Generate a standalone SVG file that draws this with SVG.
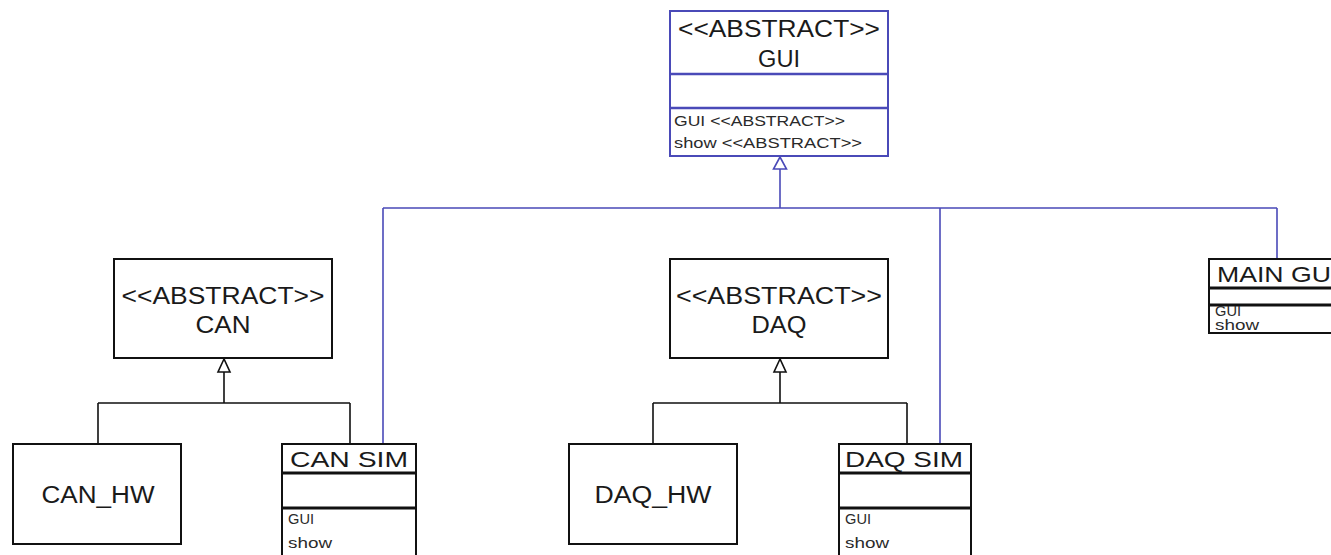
<svg xmlns="http://www.w3.org/2000/svg" width="1331" height="555" viewBox="0 0 1331 555">
<style>
.box{fill:#fff;stroke:#111;stroke-width:2}
.bbox{fill:#fff;stroke:#4a4ab8;stroke-width:2}
.sep{stroke:#111;stroke-width:3}
.bsep{stroke:#4a4ab8;stroke-width:2.5}
.big{font-family:"Liberation Sans",Arial,sans-serif;font-size:23px;fill:#1a1a1a;text-anchor:middle}
.ttl{font-family:"Liberation Sans",Arial,sans-serif;font-size:22px;fill:#1a1a1a}
.sm{font-family:"Liberation Sans",Arial,sans-serif;font-size:14px;fill:#2a2a2a}
.cb{fill:none;stroke:#4a4ab8;stroke-width:1.6}
.ck{fill:none;stroke:#111;stroke-width:1.6}
.tb{fill:#fff;stroke:#4a4ab8;stroke-width:1.6}
.tk{fill:#fff;stroke:#111;stroke-width:1.6}
</style>
<rect width="1331" height="555" fill="#fff"/>
<g id="connectors">
<path class="cb" d="M780,169 V208 M383,208 H1277 M383,208 V444 M940,208 V444 M1277,208 V259"/>
<polygon class="tb" points="780,157 773.5,169 786.5,169"/>
<path class="ck" d="M224,372 V403 M98,403 H350 M98,403 V444 M350,403 V444"/>
<polygon class="tk" points="224,359 218,372 230,372"/>
<path class="ck" d="M780,372 V403 M653,403 H907 M653,403 V444 M907,403 V444"/>
<polygon class="tk" points="780,359 774,372 786,372"/>
</g>
<g id="GUI">
<rect class="bbox" x="670" y="11" width="218" height="145"/>
<line class="bsep" x1="670" y1="74" x2="888" y2="74"/>
<line class="bsep" x1="670" y1="108" x2="888" y2="108"/>
<text class="big" x="779" y="37" textLength="202" lengthAdjust="spacingAndGlyphs">&lt;&lt;ABSTRACT&gt;&gt;</text>
<text class="big" x="779" y="67" textLength="42" lengthAdjust="spacingAndGlyphs">GUI</text>
<text class="sm" x="674" y="126" textLength="171" lengthAdjust="spacingAndGlyphs">GUI &lt;&lt;ABSTRACT&gt;&gt;</text>
<text class="sm" x="674" y="148" textLength="188" lengthAdjust="spacingAndGlyphs">show &lt;&lt;ABSTRACT&gt;&gt;</text>
</g>
<g id="CAN">
<rect class="box" x="114" y="259" width="218" height="99"/>
<text class="big" x="223" y="304" textLength="203" lengthAdjust="spacingAndGlyphs">&lt;&lt;ABSTRACT&gt;&gt;</text>
<text class="big" x="223" y="333" textLength="55" lengthAdjust="spacingAndGlyphs">CAN</text>
</g>
<g id="DAQ">
<rect class="box" x="670" y="259" width="218" height="99"/>
<text class="big" x="779" y="304" textLength="206" lengthAdjust="spacingAndGlyphs">&lt;&lt;ABSTRACT&gt;&gt;</text>
<text class="big" x="779" y="333" textLength="55" lengthAdjust="spacingAndGlyphs">DAQ</text>
</g>
<g id="CAN_HW">
<rect class="box" x="13" y="444" width="168" height="100"/>
<text class="big" x="98" y="503" textLength="113" lengthAdjust="spacingAndGlyphs">CAN_HW</text>
</g>
<g id="DAQ_HW">
<rect class="box" x="569" y="444" width="168" height="100"/>
<text class="big" x="653" y="503" textLength="117" lengthAdjust="spacingAndGlyphs">DAQ_HW</text>
</g>
<g id="CAN_SIM">
<rect class="box" x="282" y="444" width="134" height="130"/>
<text class="ttl" x="290" y="467" textLength="118" lengthAdjust="spacingAndGlyphs">CAN SIM</text>
<line class="sep" x1="282" y1="473" x2="416" y2="473"/>
<line class="sep" x1="282" y1="508" x2="416" y2="508"/>
<text class="sm" x="288" y="524" textLength="26" lengthAdjust="spacingAndGlyphs">GUI</text>
<text class="sm" x="288" y="548" textLength="44" lengthAdjust="spacingAndGlyphs">show</text>
</g>
<g id="DAQ_SIM">
<rect class="box" x="839" y="444" width="132" height="130"/>
<text class="ttl" x="845" y="467" textLength="118" lengthAdjust="spacingAndGlyphs">DAQ SIM</text>
<line class="sep" x1="839" y1="473" x2="971" y2="473"/>
<line class="sep" x1="839" y1="508" x2="971" y2="508"/>
<text class="sm" x="845" y="524" textLength="26" lengthAdjust="spacingAndGlyphs">GUI</text>
<text class="sm" x="845" y="548" textLength="44" lengthAdjust="spacingAndGlyphs">show</text>
</g>
<g id="MAIN_GUI">
<rect class="box" x="1209" y="259" width="140" height="74"/>
<text class="ttl" x="1217" y="282" textLength="114" lengthAdjust="spacingAndGlyphs">MAIN GU</text>
<line class="sep" x1="1209" y1="288" x2="1349" y2="288"/>
<line class="sep" x1="1209" y1="305" x2="1349" y2="305"/>
<text class="sm" x="1215" y="316" textLength="26" lengthAdjust="spacingAndGlyphs">GUI</text>
<text class="sm" x="1215" y="330" textLength="44" lengthAdjust="spacingAndGlyphs">show</text>
</g>
</svg>
